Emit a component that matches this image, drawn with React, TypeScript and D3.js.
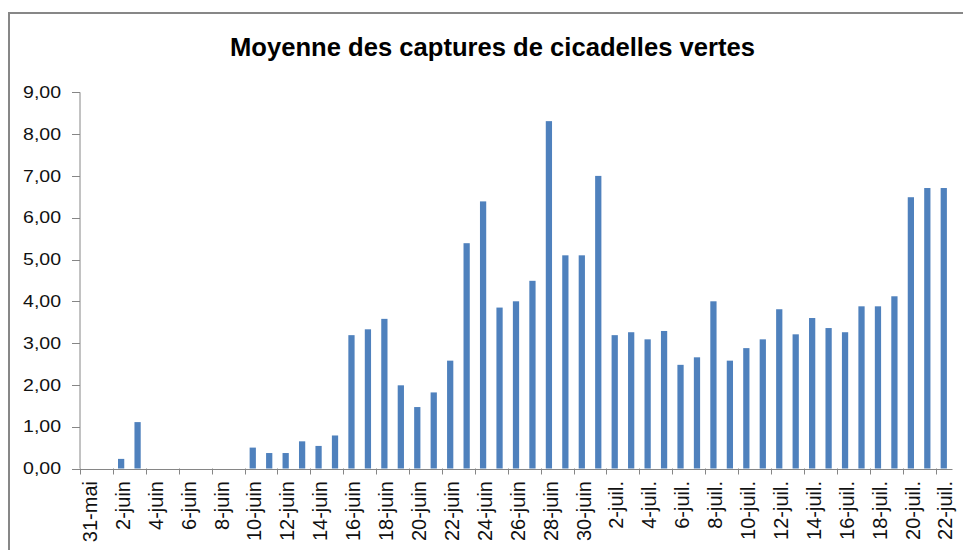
import React from "react";
import * as d3 from "d3";

// catégories : 31 mai -> 22 juillet
const juin = d3.range(1, 31).map((d) => d + "-juin");
const juil = d3.range(1, 23).map((d) => d + "-juil.");
const dates = ["31-mai", ...juin, ...juil];

// moyenne des captures, une valeur par jour
const valeursMai = [0];
const valeursJuin = [
  0, 0.23, 1.11, 0, 0, 0, 0, 0, 0, 0.5,
  0.37, 0.37, 0.65, 0.54, 0.79, 3.19, 3.33, 3.58, 1.99, 1.47,
  1.82, 2.58, 5.39, 6.39, 3.85, 4.0, 4.49, 8.31, 5.1, 5.1,
];
const valeursJuil = [
  7.0, 3.19, 3.26, 3.09, 3.29, 2.48, 2.66, 4.0, 2.58, 2.88,
  3.09, 3.81, 3.21, 3.6, 3.36, 3.26, 3.88, 3.88, 4.12, 6.49,
  6.71, 6.71,
];
const valeurs = [...valeursMai, ...valeursJuin, ...valeursJuil];

const yTicks = d3.range(0, 10);
const titre = "Moyenne des captures de cicadelles vertes";

const fr = d3.formatLocale({ decimal: ",", thousands: " ", grouping: [3], currency: ["", " €"] });
const fmt = fr.format(".2f");

const W = 963;
const H = 550;
const axisColor = "#868686";

export default function App() {
  const x = d3.scaleBand<string>().domain(dates).range([80, 952]).paddingInner(0.62).paddingOuter(0.31);
  const y = d3.scaleLinear().domain([0, 9]).range([468.5, 92.3]);
  const step = x.step();
  const x0 = x.range()[0];

  return (
    <svg width={W} height={H} style={{ position: "absolute", left: 0, top: 0, background: "#fff" }}>
      <rect x={9} y={13} width={1000} height={600} fill="#fff" stroke="#878787" strokeWidth={2} />
      <text
        x={492.5}
        y={56}
        textAnchor="middle"
        fontFamily="Liberation Sans, Arial, sans-serif"
        fontWeight="bold"
        fontSize={25}
        textLength={525}
        lengthAdjust="spacingAndGlyphs"
        fill="#000"
      >
        {titre}
      </text>

      {/* barres */}
      {dates.map((d, i) => (
        valeurs[i] > 0 ? (
          <rect
            key={d}
            x={x(d)}
            y={y(valeurs[i])}
            width={x.bandwidth()}
            height={y(0) - y(valeurs[i])}
            fill="#4F81BD"
          />
        ) : null
      ))}

      {/* axe Y */}
      <line x1={80} x2={80} y1={y(9)} y2={y(0)} stroke={axisColor} />
      {yTicks.map((t) => (
        <g key={t}>
          <line x1={72} x2={80} y1={Math.round(y(t)) + 0.5} y2={Math.round(y(t)) + 0.5} stroke={axisColor} />
          <text
            transform={`translate(61,${y(t)}) scale(1.22,1)`}
            dy="0.36em"
            textAnchor="end"
            fontFamily="Liberation Sans, Arial, sans-serif"
            fontSize={16}
            fill="#111"
          >
            {fmt(t)}
          </text>
        </g>
      ))}

      {/* axe X */}
      <line x1={80} x2={952.5} y1={Math.round(y(0)) + 0.5} y2={Math.round(y(0)) + 0.5} stroke={axisColor} />
      {dates.map((d, i) =>
        i % 2 === 0 ? (
          <g key={d}>
            <line
              x1={Math.round(x0 + step * i) + 0.5}
              x2={Math.round(x0 + step * i) + 0.5}
              y1={y(0)}
              y2={y(0) + 6}
              stroke={axisColor}
            />
            <text
              transform={`translate(${x(d)! + x.bandwidth() / 2 + 1.5},481) rotate(-90)`}
              dy="0.36em"
              textAnchor="end"
              fontFamily="Liberation Sans, Arial, sans-serif"
              fontSize={20}
              fill="#111"
            >
              {d}
            </text>
          </g>
        ) : null
      )}
    </svg>
  );
}
